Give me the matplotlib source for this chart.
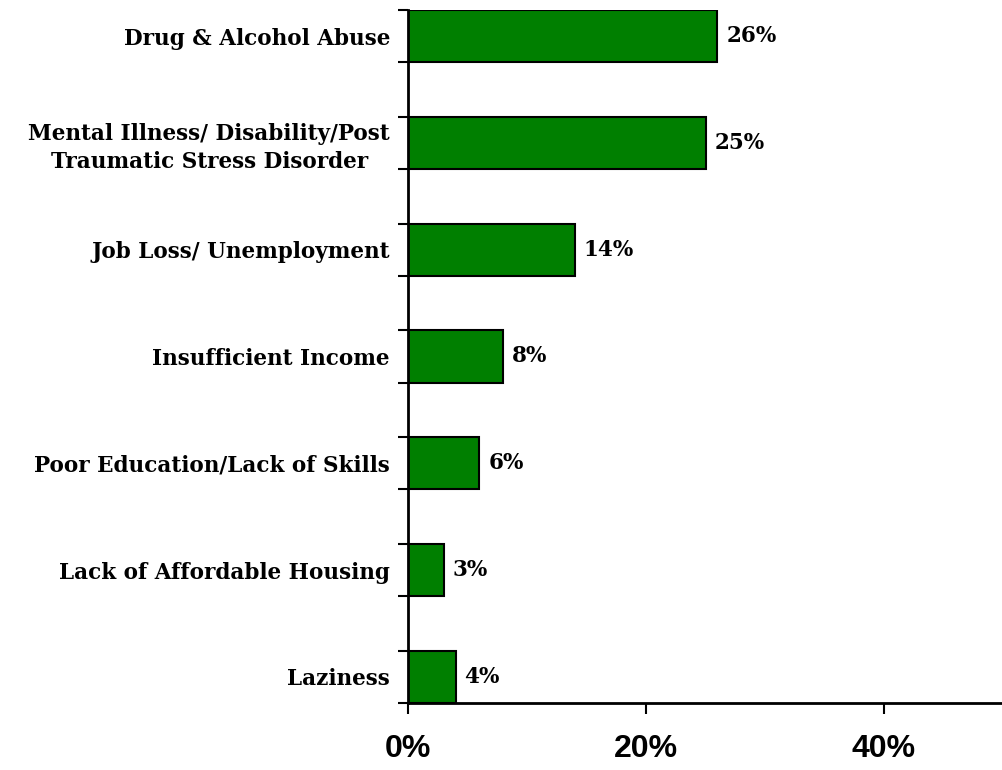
import matplotlib
matplotlib.use('Agg')
import matplotlib.pyplot as plt
import numpy as np

# Data (top to bottom)
categories = ['Drug & Alcohol Abuse',
              'Mental Illness/ Disability/Post\nTraumatic Stress Disorder',
              'Job Loss/ Unemployment',
              'Insufficient Income',
              'Poor Education/Lack of Skills',
              'Lack of Affordable Housing',
              'Laziness']
values = [26, 25, 14, 8, 6, 3, 4]
x_ticks = [0, 20, 40]
x_tick_labels = ['0%', '20%', '40%']

bar_h = 0.49
pos = np.arange(len(categories))

fig = plt.figure(figsize=(10.02, 7.70), dpi=100)
ax = fig.add_axes([408 / 1002, 67 / 770, 595 / 1002, 693 / 770])

ax.barh(pos, values, height=bar_h, color='#007f00', edgecolor='black', linewidth=1.5, zorder=2)

# Value labels next to each bar
for p, v in zip(pos, values):
    ax.text(v + 0.75, p, f'{v}%', va='center', ha='left',
            fontsize=15.5, fontweight='heavy', family='DejaVu Serif')

ax.set_xlim(0, 50)
ax.set_ylim(len(categories) - 1 + bar_h / 2, -bar_h / 2)

# Category labels on the y axis, tick marks at bar edges
ax.set_yticks(pos)
ax.set_yticklabels(categories, fontsize=15.5, fontweight='heavy', family='DejaVu Serif',
                   multialignment='center', linespacing=1.3)
ax.tick_params(axis='y', which='major', length=0, pad=13)
edges = np.concatenate([pos - bar_h / 2, pos + bar_h / 2])
ax.set_yticks(edges, minor=True)
ax.tick_params(axis='y', which='minor', length=7, width=1.5, direction='out')

ax.set_xticks(x_ticks)
ax.set_xticklabels(x_tick_labels, fontsize=23, fontweight='bold', family='Liberation Sans')
ax.tick_params(axis='x', length=8, width=1.5, direction='out', pad=14)

for side in ['top', 'right']:
    ax.spines[side].set_visible(False)
for side in ['left', 'bottom']:
    ax.spines[side].set_linewidth(2)

plt.savefig('out.png', dpi=100)
